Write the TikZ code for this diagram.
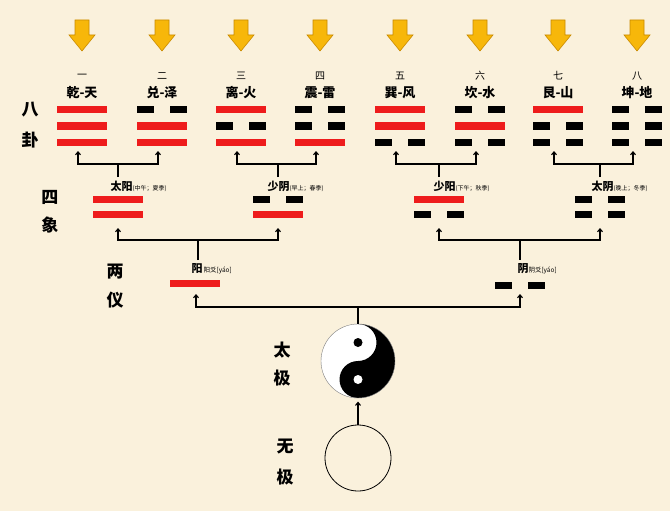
\documentclass[tikz,border=0pt]{standalone}
\usepackage{fontspec}
\setmainfont{Noto Sans CJK SC}
\usetikzlibrary{arrows.meta}

\definecolor{paper}{HTML}{FAF1DC}
\definecolor{yangred}{HTML}{EE1C1C}
\definecolor{gold}{HTML}{F7B70A}
\definecolor{goldedge}{HTML}{C98A00}

\tikzset{
  yang/.style={fill=yangred},
  yin/.style={fill=black},
  fork/.style={line width=1.1pt},
  up/.style={fork,-{Straight Barb[length=3pt,width=5pt]}},
  side/.style={font=\fontsize{17}{17}\selectfont\bfseries},
  num/.style={font=\fontsize{10}{10}\selectfont},
  gname/.style={font=\fontsize{13}{13}\selectfont\bfseries},
  xname/.style={font=\fontsize{11}{11}\selectfont\bfseries,anchor=west},
}

% one yao line: centre x, centre y, 1 = yang, 0 = yin
\newcommand{\yaoline}[3]{%
  \ifnum#3=1
    \fill[yang] (#1-25,#2-3.5) rectangle (#1+25,#2+3.5);
  \else
    \fill[yin] (#1-25,#2-3.5) rectangle (#1-8,#2+3.5);
    \fill[yin] (#1+8,#2-3.5) rectangle (#1+25,#2+3.5);
  \fi}

\begin{document}
\begin{tikzpicture}[x=1pt,y=-1pt]
  \fill[paper] (0,0) rectangle (670,511);
  \useasboundingbox (0,0) rectangle (670,511);

  % side labels
  \node[side] at (30,110) {八};  \node[side] at (30,140) {卦};
  \node[side] at (50,197) {四};  \node[side] at (50,225) {象};
  \node[side] at (115,272) {两}; \node[side] at (115,300) {仪};
  \node[side] at (282,350) {太}; \node[side] at (282,378) {极};
  \node[side] at (285,447) {无}; \node[side] at (285,477) {极};

  % eight trigrams
  \foreach \cx/\n/\name/\a/\b/\c [count=\k] in
    {82/一/乾-天/1/1/1, 162/二/兑-泽/0/1/1, 241/三/离-火/1/0/1,
     320/四/震-雷/0/0/1, 400/五/巽-风/1/1/0, 480/六/坎-水/0/1/0,
     558/七/艮-山/1/0/0, 637/八/坤-地/0/0/0}{
    \fill[gold,draw=goldedge,line width=.6pt]
      (\cx-7,20) -- (\cx+7,20) -- (\cx+7,35) -- (\cx+13,35) -- (\cx,51)
      -- (\cx-13,35) -- (\cx-7,35) -- cycle;
    \node[num] at (\cx,76) {\n};
    \node[gname] (g\k) at (\cx,93) {\name};
    \yaoline{\cx}{110}{\a}
    \yaoline{\cx}{126}{\b}
    \yaoline{\cx}{142}{\c}
    \coordinate (t\k) at (\cx-4,151);
  }

  % four images
  \foreach \cx/\lx/\name/\note/\a/\b [count=\k] in
    {118/107/太阳/(中午；夏季)/1/1, 278/264/少阴/(早上；春季)/0/1,
     439/430/少阳/(下午；秋季)/1/0, 600/588/太阴/(晚上；冬季)/0/0}{
    \coordinate (s\k) at (\cx,177);
    \node[xname] (x\k) at (\lx,186)
      {\name\fontsize{6}{6}\selectfont\mdseries\note};
    \yaoline{\cx}{199}{\a}
    \yaoline{\cx}{214}{\b}
    \coordinate (d\k) at (\cx,228);
  }

  \foreach \k/\i/\j/\hx in {1/1/2/118, 2/3/4/278, 3/5/6/439, 4/7/8/600}{
    \coordinate (h\k) at (\hx,164);
    \draw[fork] (s\k) -- (h\k);
    \draw[up] (h\k) -| (t\i);
    \draw[up] (h\k) -| (t\j);
  }

  % two modes
  \node[xname] (yangl) at (188,269)
    {阳\fontsize{6.5}{6.5}\selectfont\mdseries\,阳爻[yáo]};
  \node[xname] (yinl) at (514,269)
    {阴\fontsize{6.5}{6.5}\selectfont\mdseries 阴爻[yáo]};
  \yaoline{195}{283}{1}
  \yaoline{520}{285}{0}
  \coordinate (m1) at (198,260);
  \coordinate (m2) at (520,260);
  \coordinate (k1) at (198,240);
  \coordinate (k2) at (520,240);
  \draw[fork] (m1) -- (k1); \draw[fork] (m2) -- (k2);
  \draw[up] (k1) -| (d1); \draw[up] (k1) -| (d2);
  \draw[up] (k2) -| (d3); \draw[up] (k2) -| (d4);

  \coordinate (p1) at (196,294);
  \coordinate (p2) at (520,294);
  \coordinate (q) at (358,307);

  % taiji
  \node[circle,minimum size=74pt,inner sep=0pt] (taiji) at (358,361) {};
  \begin{scope}[shift={(358,361)},yscale=-1]
    \fill[white] (0,0) circle (37);
    \fill[black] (0,37) arc (90:-90:37) arc (-90:-270:18.5)
      arc (-90:90:18.5) -- cycle;
    \fill[black] (0,18.5) circle (4.5);
    \fill[white] (0,-18.5) circle (4.5);
    \draw[gray,line width=.4pt] (0,0) circle (37);
  \end{scope}
  \draw[fork] (taiji.north) -- (q);
  \draw[up] (q) -| (p1);
  \draw[up] (q) -| (p2);

  % wuji
  \node[circle,draw,line width=.8pt,minimum size=66pt,inner sep=0pt]
    (wuji) at (358,458) {};
  \draw[up] (wuji.north) -- ++(0,-23);
\end{tikzpicture}
\end{document}
